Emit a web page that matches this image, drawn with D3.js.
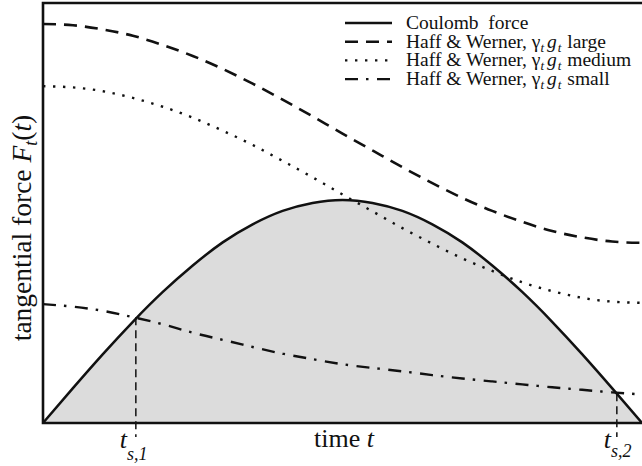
<!DOCTYPE html>
<html>
<head>
<meta charset="utf-8">
<script src="https://cdn.jsdelivr.net/npm/d3@7"></script>
<style>
  body { margin: 0; background: #fff; }
  text { font-family: "Liberation Serif", "DejaVu Serif", serif; fill: #111; white-space: pre; }
</style>
</head>
<body>
<svg id="chart"></svg>
<script>
'use strict';

// chart size
const W = 642, H = 466;

// time samples (arbitrary units, 0..10)
const times = [0, 0.5, 1, 1.5, 2, 2.5, 3, 3.5, 4, 4.5, 5, 5.5, 6, 6.5, 7, 7.5, 8, 8.5, 9, 9.5, 10];

// tangential force (0..1 = bottom..top of frame)
const coulomb = [0, 0.083, 0.164, 0.241, 0.312, 0.375, 0.430, 0.473, 0.505, 0.524, 0.531,
                 0.524, 0.505, 0.473, 0.430, 0.375, 0.312, 0.241, 0.164, 0.083, 0];
const hwLarge = [0.950, 0.947, 0.937, 0.922, 0.900, 0.874, 0.843, 0.808, 0.770, 0.730, 0.689,
                 0.649, 0.609, 0.571, 0.536, 0.505, 0.479, 0.457, 0.442, 0.432, 0.429];
const hwMedium = [0.802, 0.799, 0.790, 0.774, 0.753, 0.727, 0.696, 0.662, 0.624, 0.585, 0.544,
                  0.504, 0.464, 0.427, 0.392, 0.362, 0.335, 0.314, 0.298, 0.289, 0.286];
const hwSmall = [0.283, 0.277, 0.267, 0.252, 0.235, 0.215, 0.198, 0.181, 0.165, 0.152, 0.140,
                 0.131, 0.123, 0.114, 0.106, 0.099, 0.092, 0.085, 0.079, 0.073, 0.068];

// stick-slip times and the force level where the curves cross
const stickTimes = [1.55, 9.58];
const stickLevels = [0.252, 0.071];
const stickSubs = ['s,1', 's,2'];

// legend entries
const legendLabels = ['Coulomb  force', 'large', 'medium', 'small'];

const svg = d3.select('#chart').attr('width', W).attr('height', H);

const x = d3.scaleLinear().domain([0, 10]).range([43, 642]);
const y = d3.scaleLinear().domain([0, 1]).range([423, 3]);

const pts = vals => times.map((t, i) => [t, vals[i]]);

// grey area under coulomb curve
svg.append('path')
    .datum(pts(coulomb))
    .attr('fill', '#dcdcdc')
    .attr('d', d3.area().x(d => x(d[0])).y0(y(0)).y1(d => y(d[1])).curve(d3.curveNatural));

const line = d3.line().x(d => x(d[0])).y(d => y(d[1])).curve(d3.curveNatural);

const styles = [
    { vals: coulomb, dash: null, w: 2.5 },
    { vals: hwLarge, dash: '13,8', w: 2.6 },
    { vals: hwMedium, dash: '2.4,7.6', w: 2.4 },
    { vals: hwSmall, dash: '13,8,2.5,8.5', w: 2.4 }
];

styles.forEach(s => {
    svg.append('path')
        .datum(pts(s.vals))
        .attr('fill', 'none')
        .attr('stroke', '#111')
        .attr('stroke-width', s.w)
        .attr('stroke-dasharray', s.dash)
        .attr('d', line);
});

// vertical dashed markers
stickTimes.forEach((t, i) => {
    svg.append('line')
        .attr('x1', x(t)).attr('x2', x(t))
        .attr('y1', y(stickLevels[i])).attr('y2', 437)
        .attr('stroke', '#111')
        .attr('stroke-width', 1.5)
        .attr('stroke-dasharray', '8,5');
});

// frame (left, top, bottom)
svg.append('path')
    .attr('d', `M${W + 5},${y(1)}H${x(0)}V${y(0)}H${W + 5}`)
    .attr('fill', 'none')
    .attr('stroke', '#111')
    .attr('stroke-width', 2.6);

// axis titles
const xt = svg.append('text')
    .attr('x', 344).attr('y', 447)
    .attr('text-anchor', 'middle')
    .attr('font-size', 26);
xt.append('tspan').text('time ');
xt.append('tspan').attr('font-style', 'italic').text('t');

const yt = svg.append('text')
    .attr('transform', 'translate(31,228) rotate(-90)')
    .attr('text-anchor', 'middle')
    .attr('font-size', 27.5);
yt.append('tspan').text('tangential force ');
yt.append('tspan').attr('font-style', 'italic').text('F');
yt.append('tspan').attr('font-style', 'italic').attr('font-size', 18).attr('dy', 6).text('t');
yt.append('tspan').attr('dy', -6).text('(');
yt.append('tspan').attr('font-style', 'italic').text('t');
yt.append('tspan').text(')');

// t_s labels
stickTimes.forEach((t, i) => {
    const lab = svg.append('text')
        .attr('x', x(t) - 16 + (i ? 3 : 0)).attr('y', 448)
        .attr('font-size', 26)
        .attr('font-style', 'italic');
    lab.append('tspan').text('t');
    lab.append('tspan').attr('font-size', 18).attr('dy', i ? 9 : 12).text(stickSubs[i]);
});

// legend
const lg = svg.append('g').attr('transform', 'translate(345,23)');
styles.forEach((s, i) => {
    const row = lg.append('g').attr('transform', `translate(0,${i * 18.7})`);
    row.append('line')
        .attr('x1', 0).attr('x2', 47)
        .attr('stroke', '#111')
        .attr('stroke-width', s.w)
        .attr('stroke-dasharray', s.dash);
    const tx = row.append('text').attr('x', 61).attr('y', 6).attr('font-size', 19.5);
    if (i === 0) {
        tx.text(legendLabels[0]);
    } else {
        tx.append('tspan').text('Haff & Werner, γ');
        tx.append('tspan').attr('font-style', 'italic').attr('font-size', 13).attr('dy', 4).text('t');
        tx.append('tspan').attr('font-style', 'italic').attr('dy', -4).attr('dx', 3).text('g');
        tx.append('tspan').attr('font-style', 'italic').attr('font-size', 13).attr('dy', 4).attr('dx', 1).text('t');
        tx.append('tspan').attr('dy', -4).attr('dx', 1).text(' ' + legendLabels[i]);
    }
});
</script>
</body>
</html>
